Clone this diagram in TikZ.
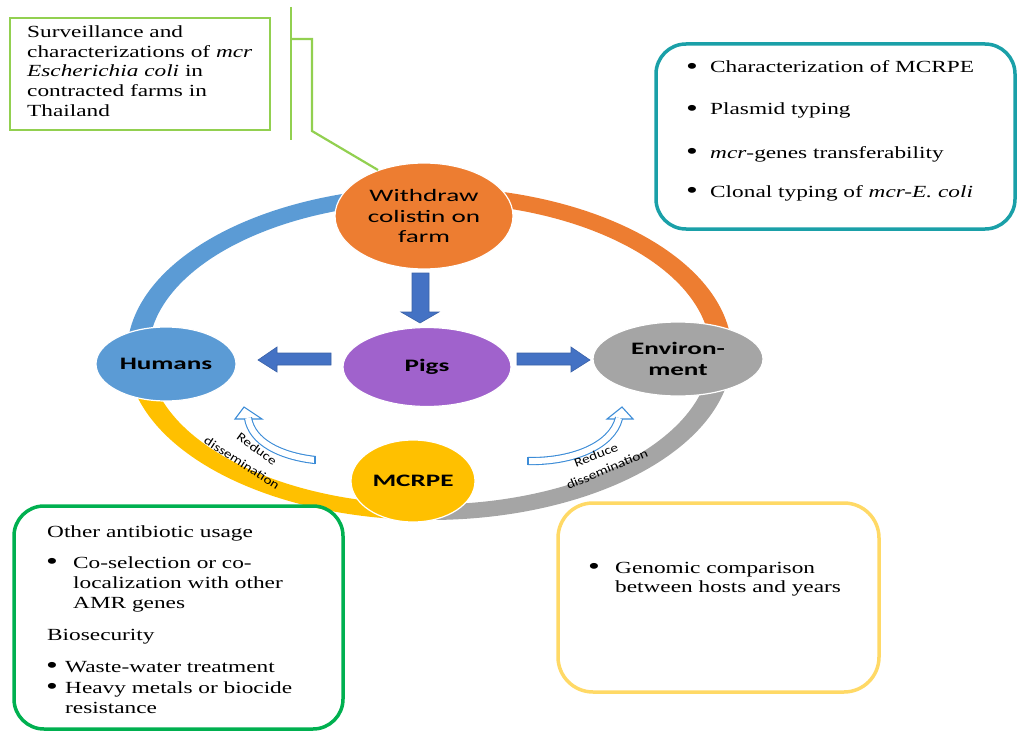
\documentclass[tikz,border=0pt]{standalone}
\usepackage{fontspec}
\setmainfont{Liberation Serif}[FakeStretch=1.37]
\newfontfamily\calib{Carlito}[FakeStretch=1.55]
\newfontfamily\calibs{Carlito}[FakeStretch=1.25]
\usetikzlibrary{shapes.geometric}
\definecolor{ringblue}{HTML}{5B9BD5}
\definecolor{ringorange}{HTML}{ED7D31}
\definecolor{ringgrey}{HTML}{A5A5A5}
\definecolor{ringgold}{HTML}{FFC000}
\definecolor{pigpurple}{RGB}{160,98,204}
\definecolor{arrowblue}{HTML}{4472C4}
\definecolor{hollowblue}{RGB}{60,140,215}
\definecolor{lightgreen}{HTML}{92D050}
\definecolor{tealbox}{RGB}{26,160,168}
\definecolor{greenbox}{HTML}{00B050}
\definecolor{yellowbox}{HTML}{FFD966}
\newcommand{\bulw}[1]{\makebox[#1][l]{\raisebox{-1.2pt}{\scalebox{1.45}{\textbullet}}}}
\begin{document}
\begin{tikzpicture}[x=1pt,y=-1pt,
 blob/.style={ellipse, draw=white, line width=1.2pt, inner sep=0pt, text=black,
   font=\calib\fontsize{17.5}{20.5}\selectfont, align=center},
 boldblob/.style={blob, font=\calib\bfseries\fontsize{17.5}{21}\selectfont},
 blockarrow/.style={fill=arrowblue, draw=arrowblue!85!black, line width=0.6pt},
 hollow/.style={draw=hollowblue, line width=1.1pt, double=white, double distance=6pt},
 hollowhead/.style={draw=hollowblue, fill=white, line width=1.1pt, line join=miter},
 txt/.style={anchor=base west, inner sep=0pt, font=\fontsize{17}{19}\selectfont},
 small/.style={inner sep=0pt, font=\calibs\fontsize{12.3}{14}\selectfont},
 panel/.style={line width=3.5pt, rounded corners=30pt},
 callout/.style={draw=lightgreen, line width=2.8pt},
 outerarc/.style={x radius=302.5pt, y radius=166.5pt},
 innerarc/.style={x radius=281pt, y radius=151pt}
]
\useasboundingbox (0,0) rectangle (1019,733);

% ring (annular sectors, thicker at the sides)
\fill[ringblue] (127,353.5) arc[start angle=180, end angle=90, outerarc] -- (429.5,202.5) arc[start angle=90, end angle=180, innerarc] -- cycle;
\fill[ringorange] (429.5,187) arc[start angle=90, end angle=0, outerarc] -- (710.5,353.5) arc[start angle=0, end angle=90, innerarc] -- cycle;
\fill[ringgrey] (732,353.5) arc[start angle=0, end angle=-90, outerarc] -- (429.5,504.5) arc[start angle=-90, end angle=0, innerarc] -- cycle;
\fill[ringgold] (429.5,520) arc[start angle=270, end angle=180, outerarc] -- (148.5,353.5) arc[start angle=180, end angle=270, innerarc] -- cycle;

% nodes
\node[blob, fill=ringorange, minimum width=178pt, minimum height=106pt] (withdraw) at (424,216) {Withdraw\\colistin on\\farm};
\node[boldblob, fill=pigpurple, minimum width=168pt, minimum height=79pt] (pigs) at (427,367) {Pigs};
\node[boldblob, fill=ringblue, minimum width=140pt, minimum height=74pt] (humans) at (166,364) {Humans};
\node[boldblob, fill=ringgrey, minimum width=170pt, minimum height=74pt] (env) at (678,359) {Environ-\\ment};
\node[boldblob, fill=ringgold, minimum width=124pt, minimum height=82pt] (mcrpe) at (413,481) {MCRPE};

% block arrows
\draw[blockarrow] (412,273)--(429,273)--(429,312)--(439,312)--(420,323)--(401,312)--(412,312)--cycle;
\draw[blockarrow] (331,353)--(277,353)--(277,347)--(258,360)--(277,372)--(277,365)--(331,365)--cycle;
\draw[blockarrow] (517,353)--(571,353)--(571,347)--(590,360)--(571,372)--(571,365)--(517,365)--cycle;

% hollow curved arrows
\draw[hollowhead] (235,419)--(262,419)--(244,407)--cycle;
\draw[hollow] (315,460) .. controls (280,456) and (252,442) .. (248,418);
\draw[hollowblue, line width=1.1pt] (315,455.9)--(315,464.1);
\draw[hollowhead] (607,419)--(633,419)--(622,407)--cycle;
\draw[hollow] (528,461) .. controls (570,462) and (612,447) .. (619,418);
\draw[hollowblue, line width=1.1pt] (528,456.9)--(528,465.1);

\node[small, rotate=-36] (rl1) at (257,449) {Reduce};
\node[small, rotate=-33] (rl2) at (242,463) {dissemination};
\node[small, rotate=21] (rr1) at (596,455) {Reduce};
\node[small, rotate=23] (rr2) at (607,469) {dissemination};

% top-left callout
\draw[callout] (10,18) rectangle (270,130);
\coordinate (bartop) at (291,7);
\coordinate (barbot) at (291,140);
\coordinate (barmid) at (291,39);
\coordinate (elbow) at (312,131);
\draw[callout] (bartop) -- (barbot);
\draw[callout, line width=2.2pt] (barmid) -| (elbow) -- (withdraw.135);
\node[txt] (t1) at (27,38) {Surveillance and};
\node[txt] (t2) at (27,58) {characterizations of \textit{mcr}};
\node[txt] (t3) at (27,77) {\textit{Escherichia coli} in};
\node[txt] (t4) at (27,97) {contracted farms in};
\node[txt] (t5) at (27,117) {Thailand};

% teal box
\draw[panel, tealbox] (656,44) rectangle (1015,229);
\node[txt] (c1) at (686,73) {\bulw{24pt}Characterization of MCRPE};
\node[txt] (c2) at (686,115) {\bulw{24pt}Plasmid typing};
\node[txt] (c3) at (686,158) {\bulw{24pt}\textit{mcr}-genes transferability};
\node[txt] (c4) at (686,197) {\bulw{24pt}Clonal typing of \textit{mcr-E. coli}};

% green box
\draw[panel, greenbox] (14,506) rectangle (343,729);
\node[txt] (g1) at (47,537) {Other antibiotic usage};
\node[txt] (g2) at (46,568) {\bulw{27pt}Co-selection or co-};
\node[txt] (g3) at (73,588) {localization with other};
\node[txt] (g4) at (73,608) {AMR genes};
\node[txt] (g5) at (47,640) {Biosecurity};
\node[txt] (g6) at (46,672) {\bulw{19pt}Waste-water treatment};
\node[txt] (g7) at (46,693) {\bulw{19pt}Heavy metals or biocide};
\node[txt] (g8) at (65,713) {resistance};

% yellow box
\draw[panel, yellowbox, rounded corners=35pt] (558,503) rectangle (879,692);
\node[txt] (y1) at (588,573) {\bulw{27pt}Genomic comparison};
\node[txt] (y2) at (615,592) {between hosts and years};
\end{tikzpicture}
\end{document}
